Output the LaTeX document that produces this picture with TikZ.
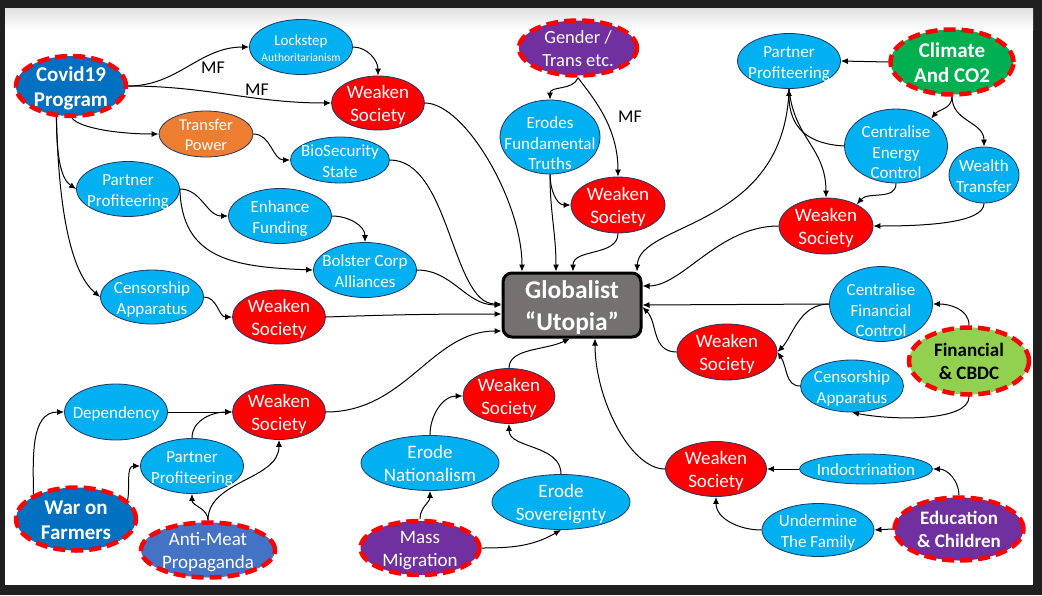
\documentclass[tikz,border=0pt]{standalone}
\usepackage{fontspec}
\setmainfont{Carlito}
\usetikzlibrary{shapes.geometric,arrows.meta,calc}
\definecolor{frame}{HTML}{1F1F1F}
\definecolor{lblue}{HTML}{00B0F0}
\definecolor{wred}{HTML}{FF0000}
\definecolor{navy}{HTML}{1F3864}
\definecolor{corange}{HTML}{ED7D31}
\definecolor{cblue}{HTML}{0070C0}
\definecolor{mblue}{HTML}{4472C4}
\definecolor{cpurple}{HTML}{7030A0}
\definecolor{cgreen}{HTML}{00B050}
\definecolor{clime}{HTML}{92D050}
\definecolor{cgrey}{HTML}{767171}
\definecolor{dashred}{HTML}{FF0000}
\newcommand\ztxt[2][2.7pt]{\raisebox{-#1}[0pt][0pt]{\makebox[0pt]{\vbox to 0pt{\vss\hbox{\begin{tabular}{@{}c@{}}#2\end{tabular}}\vss}}}}
\tikzset{
  bub/.style={ellipse, draw=navy, line width=0.8pt, inner sep=0pt, text=white},
  blu/.style={bub, fill=lblue, font=\fontsize{17}{20.5}\selectfont},
  wk/.style={bub, fill=wred, font=\fontsize{19}{23}\selectfont},
  hub/.style={ellipse, draw=dashred, line width=4.5pt, dash pattern=on 12pt off 6pt, inner sep=0pt, text=white},
  sz/.style 2 args={minimum width=#1pt, minimum height=#2pt},
  con/.style={-{Latex[length=7pt,width=6pt]}, line width=1pt, black},
  mf/.style={font=\fontsize{18}{20}\selectfont, text=black, inner sep=0pt},
}
\begin{document}
\begin{tikzpicture}[x=1pt,y=-1pt]
\useasboundingbox (0,0) rectangle (1042,595);
\fill[frame] (0,0) rectangle (1042,595);
\fill[white] (5,8) rectangle (1033,585);
\shade[top color=black!12, bottom color=white] (5,8) rectangle (1033,30);

% ---- nodes ----
\node[hub, fill=cblue, sz={110}{60}, font=\bfseries\fontsize{21}{25}\selectfont] (cov) at (71,86) {\ztxt{Covid19\\Program}};
\node[blu, sz={103}{55}, font=\fontsize{15}{16}\selectfont] (lock) at (301,47) {\ztxt[3.5pt]{Lockstep\\[0pt]{\fontsize{11.5}{13}\selectfont Authoritarianism}}};
\node[wk, sz={93}{54}] (ws1) at (378,103) {\ztxt{Weaken\\Society}};
\node[bub, fill=corange, sz={94}{46}, font=\fontsize{16.5}{20}\selectfont] (tp) at (206,134) {\ztxt{Transfer\\Power}};
\node[blu, sz={99}{46}] (bio) at (340,160) {\ztxt{BioSecurity\\State}};
\node[blu, sz={103}{55}] (pp1) at (128,189) {\ztxt{Partner\\Profiteering}};
\node[blu, sz={103}{55}] (enh) at (280,216) {\ztxt{Enhance\\Funding}};
\node[blu, sz={103}{55}] (bol) at (365,270) {\ztxt{Bolster Corp\\Alliances}};
\node[blu, sz={103}{54}] (cen1) at (152,297) {\ztxt{Censorship\\Apparatus}};
\node[wk, sz={93}{54}] (ws2) at (279,317) {\ztxt{Weaken\\Society}};

\node[draw=black, line width=3pt, fill=cgrey, rounded corners=9pt, minimum width=138pt, minimum height=64pt, inner sep=0pt, text=white, font=\bfseries\fontsize{25.5}{32}\selectfont] (glob) at (572,305) {\ztxt[3.5pt]{Globalist\\“Utopia”}};

\node[hub, fill=cpurple, sz={118}{55}, font=\fontsize{18.5}{23}\selectfont] (gen) at (578,48) {\ztxt{Gender /\\Trans etc.}};
\node[blu, sz={100}{74}] (ero) at (550,137) {\ztxt[8pt]{Erodes\\Fundamental\\Truths}};
\node[wk, sz={94}{56}] (ws3) at (618,205) {\ztxt{Weaken\\Society}};

\node[blu, sz={103}{55}] (pp3) at (789,61) {\ztxt{Partner\\Profiteering}};
\node[hub, fill=cgreen, sz={123}{65}, font=\bfseries\fontsize{21}{25}\selectfont] (cli) at (952,62) {\ztxt{Climate\\And CO2}};
\node[blu, sz={103}{74}] (cec) at (896,146) {\ztxt[8pt]{Centralise\\Energy\\Control}};
\node[blu, sz={70}{56}] (wt) at (984,175) {\ztxt{Wealth\\Transfer}};
\node[wk, sz={94}{56}] (ws4) at (826,226) {\ztxt{Weaken\\Society}};

\node[blu, sz={103}{75}] (cfc) at (881,304) {\ztxt[8pt]{Centralise\\Financial\\Control}};
\node[wk, sz={100}{56}] (ws5) at (727,352) {\ztxt{Weaken\\Society}};
\node[blu, sz={103}{52}] (cen2) at (852,386) {\ztxt{Censorship\\Apparatus}};
\node[hub, fill=clime, sz={120}{67}, text=black, font=\bfseries\fontsize{19}{22.5}\selectfont] (fin) at (969,361) {\ztxt{Financial\\\& CBDC}};

\node[wk, sz={101}{55}] (ws6) at (716,469) {\ztxt{Weaken\\Society}};
\node[blu, sz={133}{30}] (ind) at (866,469) {\ztxt{Indoctrination}};
\node[blu, sz={112}{53}] (und) at (818,530) {\ztxt{Undermine\\The Family}};
\node[hub, fill=cpurple, sz={129}{63}, font=\bfseries\fontsize{19}{22.5}\selectfont] (edu) at (959,529) {\ztxt{Education\\\& Children}};

\node[wk, sz={92}{55}] (ws7) at (509,396) {\ztxt{Weaken\\Society}};
\node[blu, sz={138}{55}, font=\fontsize{19}{22.5}\selectfont] (en) at (430,463) {\ztxt{Erode\\Nationalism}};
\node[blu, sz={138}{55}, font=\fontsize{19}{22.5}\selectfont] (es) at (561,502) {\ztxt{Erode\\Sovereignty}};
\node[hub, fill=cpurple, sz={119}{54}, font=\fontsize{19}{23}\selectfont] (mm) at (420,548) {\ztxt{Mass\\Migration}};

\node[wk, sz={93}{55}] (ws8) at (279,412) {\ztxt{Weaken\\Society}};
\node[blu, sz={103}{56}] (dep) at (116,412) {\ztxt{Dependency}};
\node[blu, sz={103}{55}] (pp2) at (192,466) {\ztxt{Partner\\Profiteering}};
\node[hub, fill=cblue, sz={120}{63}, font=\bfseries\fontsize{21}{25}\selectfont] (wof) at (76,519) {\ztxt{War on\\Farmers}};
\node[hub, fill=mblue, sz={134}{55}, font=\fontsize{19}{23}\selectfont] (am) at (208,550) {\ztxt{Anti-Meat\\Propaganda}};

% ---- labels ----
\node[mf] (mf1) at (213,68) {MF};
\node[mf] (mf2) at (257,90) {MF};
\node[mf] (mf3) at (630,117) {MF};

% ---- connectors: Covid19 ----
\draw[con] (cov.east) to[out=0,in=180] (lock.west);
\draw[con] (cov.east) to[out=0,in=180] (ws1.west);
\draw[con] (cov.-88) .. controls +(8,10) and +(-40,0) .. (tp.west);
\draw[con] (cov.245) .. controls +(0,40) and +(-15,-10) .. (pp1.west);
\draw[con] (cov.245) .. controls +(2,90) and +(-30,-25) .. (cen1.west);
\draw[con] (lock.east) to[out=0,in=90] (ws1.north);
\draw[con] (tp.east) to[out=0,in=180] (bio.west);
\draw[con] (pp1.east) to[out=0,in=180] (enh.west);
\draw[con] (pp1.east) .. controls +(2,70) and +(-80,-3) .. (bol.west);
\draw[con] (enh.east) to[out=0,in=90] (bol.north);
\draw[con] (cen1.east) to[out=0,in=180] (ws2.west);
\draw[con] (ws1.east) .. controls +(40,0) and +(0,-70) .. ([xshift=-50pt]glob.north);
\draw[con] (bio.east) .. controls +(60,0) and +(-50,0) .. ([yshift=1pt]glob.west);
\draw[con] (bol.east) to[out=0,in=180] (glob.west);
\draw[con] (ws2.east) to[out=2,in=180] ([yshift=-9pt]glob.west);

% ---- Gender ----
\draw[con] (gen.south) to[out=-110,in=90] (ero.north);
\draw[con] (gen.south) .. controls +(15,20) and +(0,-50) .. (ws3.north);
\draw[con] (ero.south) to[out=-90,in=180] (ws3.west);
\draw[con] (ero.south) to[out=-90,in=90] ([xshift=-16pt]glob.north);
\draw[con] (ws3.south) to[out=-90,in=90] ([xshift=1pt]glob.north);

% ---- Climate ----
\draw[con] (cli.west) -- (pp3.east);
\draw[con] (cli.south) to[out=-90,in=50] (cec.38);
\draw[con] (cli.south) .. controls +(0,25) and +(0,-25) .. (wt.north);
\draw[con] (cec.west) .. controls +(-35,-2) and +(0,40) .. (pp3.south);
\draw[con] (pp3.south) .. controls +(5,50) and +(0,-50) .. (ws4.north);
\draw[con] (pp3.south) .. controls +(-4,140) and +(2,-50) .. ([xshift=65pt]glob.north);
\draw[con] (cec.south) to[out=-90,in=50] (ws4.35);
\draw[con] (wt.south) .. controls +(0,20) and +(50,0) .. (ws4.east);
\draw[con] (ws4.west) .. controls +(-60,0) and +(40,0) .. ([yshift=19pt]glob.east);

% ---- Financial ----
\draw[con] (fin.north) to[out=90,in=0] (cfc.east);
\draw[con] (fin.south) .. controls +(0,25) and +(40,8) .. (cen2.south);
\draw[con] (cfc.west) -- (glob.east);
\draw[con] (cfc.west) .. controls +(-30,0) and +(15,-15) .. (ws5.east);
\draw[con] (cen2.west) .. controls +(-15,0) and +(10,15) .. (ws5.east);
\draw[con] (ws5.west) .. controls +(-25,0) and +(15,15) .. ([yshift=-2pt]glob.east);

% ---- Education ----
\draw[con] (edu.north) to[out=90,in=0] (ind.east);
\draw[con] (edu.west) -- (und.east);
\draw[con] (ind.west) -- (ws6.east);
\draw[con] (und.west) to[out=180,in=-90] (ws6.south);
\draw[con] (ws6.west) .. controls +(-35,0) and +(0,60) .. ([xshift=23pt]glob.south);

% ---- Migration ----
\draw[con] (mm.north) to[out=90,in=-90] (en.south);
\draw[con] (mm.east) to[out=0,in=-150] (es.south);
\draw[con] (en.north) to[out=90,in=180] (ws7.west);
\draw[con] (es.north) .. controls +(0,-30) and +(0,25) .. (ws7.south);
\draw[con] (ws7.north) .. controls +(0,-20) and +(-25,12) .. ([xshift=-2pt]glob.south);

% ---- Farmers ----
\draw[con] (wof.150) to[out=90,in=180] (dep.west);
\draw[con] (wof.20) to[out=80,in=180] (pp2.west);
\draw[con] (dep.east) -- (ws8.west);
\draw[con] (pp2.north) to[out=90,in=180] (ws8.west);
\draw[con] (am.north) .. controls +(0,-12) and +(0,12) .. (pp2.south);
\draw[con] (am.north) .. controls +(0,-40) and +(0,40) .. (ws8.south);
\draw[con] (ws8.east) .. controls +(80,0) and +(-70,0) .. ([yshift=-26pt]glob.west);
\end{tikzpicture}
\end{document}
